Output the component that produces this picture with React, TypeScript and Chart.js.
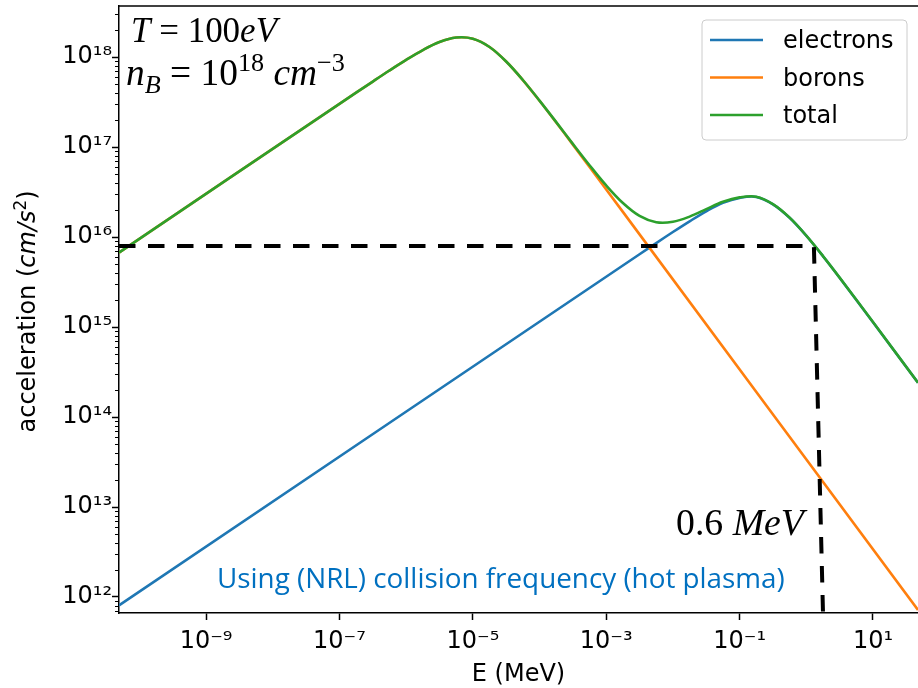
import React, { useEffect, useRef } from 'react';
import { Chart, registerables } from 'chart.js';

Chart.register(...registerables);

// ---------- data ----------
const xMin = 4.95e-11;
const xMax = 47.3;
const yMin = 6.64e11;
const yMax = 3.69e18;

const electronsE = [4.95e-11, 3.16e-3, 5.62e-3, 1e-2, 1.78e-2, 3.16e-2, 5.62e-2, 0.1, 0.178, 0.316, 0.562, 1, 1.78, 3.16, 10, 47.3];
const electronsA = [8.08e11, 6.44e15, 8.57e15, 1.137e16, 1.495e16, 1.932e16, 2.399e16, 2.72e16, 2.79e16, 2.31e16, 1.635e16, 1.033e16, 6.12e15, 3.53e15, 1.131e15, 2.4e14];

const boronsE = [4.95e-11, 1e-7, 3.16e-7, 5.62e-7, 1e-6, 1.78e-6, 3.16e-6, 5.62e-6, 1e-5, 1.78e-5, 3.16e-5, 5.62e-5, 1e-4, 1.78e-4, 3.16e-4, 1e-3, 3.16e-3, 47.3];
const boronsA = [6.72e15, 3.02e17, 5.34e17, 7.08e17, 9.29e17, 1.194e18, 1.466e18, 1.646e18, 1.597e18, 1.293e18, 8.92e17, 5.55e17, 3.27e17, 1.875e17, 1.063e17, 3.38e16, 1.07e16, 7.16e11];

const totalE = [4.95e-11, 1e-7, 3.16e-7, 5.62e-7, 1e-6, 1.78e-6, 3.16e-6, 5.62e-6, 1e-5, 1.78e-5, 3.16e-5, 5.62e-5, 1e-4, 1.78e-4, 3.16e-4, 5.62e-4, 1e-3, 1.78e-3, 3.16e-3, 5.62e-3, 1e-2, 1.78e-2, 3.16e-2, 5.62e-2, 0.1, 0.178, 0.316, 0.562, 1, 1.78, 3.16, 10, 47.3];
const totalA = [6.72e15, 3.02e17, 5.34e17, 7.08e17, 9.29e17, 1.194e18, 1.466e18, 1.646e18, 1.597e18, 1.293e18, 8.92e17, 5.56e17, 3.28e17, 1.89e17, 1.084e17, 6.28e16, 3.74e16, 2.387e16, 1.716e16, 1.459e16, 1.476e16, 1.686e16, 2.04e16, 2.46e16, 2.756e16, 2.805e16, 2.317e16, 1.641e16, 1.036e16, 6.14e15, 3.54e15, 1.135e15, 2.405e14];

const markerE = [4.95e-11, 1.3, 1.78];
const markerA = [7.94e15, 7.94e15, 6.64e11];

const seriesLabels = ['electrons', 'borons', 'total'];
const seriesColors = ['#1f77b4', '#ff7f0e', '#2ca02c'];

const xTickValues = [1e-9, 1e-7, 1e-5, 1e-3, 1e-1, 1e1];
const xTickLabels = ['10⁻⁹', '10⁻⁷', '10⁻⁵', '10⁻³', '10⁻¹', '10¹'];
const yTickValues = [1e12, 1e13, 1e14, 1e15, 1e16, 1e17, 1e18];
const yTickLabels = ['10¹²', '10¹³', '10¹⁴', '10¹⁵', '10¹⁶', '10¹⁷', '10¹⁸'];

const xTitle = 'E (MeV)';
const noteText = 'Using (NRL) collision frequency (hot plasma)';

// ---------- helpers ----------
type Run = { text: string; italic?: boolean; rel?: number; dy?: number; family: string };

function runFont(r: Run, size: number) {
  return `${r.italic ? 'italic ' : ''}${(size * (r.rel ?? 1)).toFixed(2)}px ${r.family}`;
}
function measureRuns(ctx: CanvasRenderingContext2D, runs: Run[], size: number) {
  let w = 0;
  for (const r of runs) {
    ctx.font = runFont(r, size);
    w += ctx.measureText(r.text).width;
  }
  return w;
}
function drawRuns(ctx: CanvasRenderingContext2D, runs: Run[], x: number, y: number, size: number) {
  let cx = x;
  for (const r of runs) {
    ctx.font = runFont(r, size);
    ctx.fillText(r.text, cx, y + (r.dy ?? 0) * size);
    cx += ctx.measureText(r.text).width;
  }
}
function drawFitted(ctx: CanvasRenderingContext2D, runs: Run[], x: number, y: number, targetW: number, base: number) {
  const w = measureRuns(ctx, runs, base);
  const size = base * targetW / w;
  drawRuns(ctx, runs, x, y, size);
}

const SERIF = "'Liberation Serif', serif";
const SANS = "'DejaVu Sans', sans-serif";

const decorPlugin = {
  id: 'decor',
  afterDraw(chart: any) {
    const ctx: CanvasRenderingContext2D = chart.ctx;
    const { left, right, top, bottom } = chart.chartArea;
    const ys = chart.scales.y;
    ctx.save();

    // top spine
    ctx.strokeStyle = '#000';
    ctx.lineWidth = 1.5;
    ctx.beginPath();
    ctx.moveTo(left - 0.75, top);
    ctx.lineTo(right, top);
    ctx.stroke();

    // minor y ticks
    ctx.lineWidth = 1;
    for (let n = 11; n <= 18; n++) {
      for (let k = 2; k <= 9; k++) {
        const v = k * Math.pow(10, n);
        if (v < ys.min || v > ys.max) continue;
        const py = Math.round(ys.getPixelForValue(v)) + 0.5;
        ctx.beginPath();
        ctx.moveTo(left - 4, py);
        ctx.lineTo(left, py);
        ctx.stroke();
      }
    }

    // y title with mixed styles
    ctx.fillStyle = '#000';
    ctx.textBaseline = 'alphabetic';
    const yTitleRuns: Run[] = [
      { text: 'acceleration (', family: SANS },
      { text: 'cm/s', family: SANS, italic: true },
      { text: '2', family: SANS, rel: 0.7, dy: -0.38 },
      { text: ')', family: SANS },
    ];
    const tw = measureRuns(ctx, yTitleRuns, 24);
    ctx.save();
    ctx.translate(35, (top + bottom) / 2 + tw / 2 + 2);
    ctx.rotate(-Math.PI / 2);
    drawRuns(ctx, yTitleRuns, 0, 0, 24);
    ctx.restore();

    // legend
    const lx = 702, ly = 20, lw = 205, lh = 120, rad = 4;
    ctx.beginPath();
    ctx.moveTo(lx + rad, ly);
    ctx.lineTo(lx + lw - rad, ly);
    ctx.quadraticCurveTo(lx + lw, ly, lx + lw, ly + rad);
    ctx.lineTo(lx + lw, ly + lh - rad);
    ctx.quadraticCurveTo(lx + lw, ly + lh, lx + lw - rad, ly + lh);
    ctx.lineTo(lx + rad, ly + lh);
    ctx.quadraticCurveTo(lx, ly + lh, lx, ly + lh - rad);
    ctx.lineTo(lx, ly + rad);
    ctx.quadraticCurveTo(lx, ly, lx + rad, ly);
    ctx.closePath();
    ctx.fillStyle = 'rgba(255,255,255,0.8)';
    ctx.fill();
    ctx.strokeStyle = '#cccccc';
    ctx.lineWidth = 1;
    ctx.stroke();
    const rowY = [40, 77.5, 115];
    seriesLabels.forEach((lab, i) => {
      ctx.strokeStyle = seriesColors[i];
      ctx.lineWidth = 2.6;
      ctx.beginPath();
      ctx.moveTo(710, rowY[i]);
      ctx.lineTo(763, rowY[i]);
      ctx.stroke();
      ctx.fillStyle = '#000';
      ctx.font = `24px ${SANS}`;
      ctx.fillText(lab, 783, rowY[i] + 8);
    });

    // annotations
    ctx.fillStyle = '#000';
    drawFitted(ctx, [
      { text: 'T', italic: true, family: SERIF },
      { text: ' = 100', family: SERIF },
      { text: 'eV', italic: true, family: SERIF },
    ], 131, 42, 146, 30);
    drawFitted(ctx, [
      { text: 'n', italic: true, family: SERIF },
      { text: 'B', italic: true, family: SERIF, rel: 0.7, dy: 0.22 },
      { text: ' = 10', family: SERIF },
      { text: '18', family: SERIF, rel: 0.7, dy: -0.38 },
      { text: ' ', family: SERIF },
      { text: 'cm', italic: true, family: SERIF },
      { text: '−3', family: SERIF, rel: 0.7, dy: -0.38 },
    ], 126, 85, 219, 30);
    drawFitted(ctx, [
      { text: '0.6 ', family: SERIF },
      { text: 'MeV', italic: true, family: SERIF },
    ], 676, 535, 128, 30);

    ctx.fillStyle = '#0070c0';
    drawFitted(ctx, [{ text: noteText, family: "'Open Sans', sans-serif" }], 217, 588, 568, 25);

    ctx.restore();
  },
};

function pts(xs: number[], ys: number[]) {
  return xs.map((x, i) => ({ x, y: ys[i] }));
}

export default function App() {
  const ref = useRef<HTMLCanvasElement>(null);
  useEffect(() => {
    if (!ref.current) return;
    Chart.defaults.font.family = SANS;
    const lineBase = {
      pointRadius: 0,
      pointHoverRadius: 0,
      borderWidth: 2.6,
      fill: false,
      tension: 0.35,
    };
    const chart = new Chart(ref.current, {
      type: 'line',
      data: {
        datasets: [
          {
            label: 'marker',
            data: pts(markerE, markerA),
            borderColor: '#000',
            borderWidth: 4,
            borderDash: [16.5, 12.5],
            pointRadius: 0,
            tension: 0,
            order: 0,
          },
          { ...lineBase, label: seriesLabels[2], data: pts(totalE, totalA), borderColor: seriesColors[2], order: 1 },
          { ...lineBase, label: seriesLabels[1], data: pts(boronsE, boronsA), borderColor: seriesColors[1], order: 2 },
          { ...lineBase, label: seriesLabels[0], data: pts(electronsE, electronsA), borderColor: seriesColors[0], order: 3 },
        ],
      },
      options: {
        responsive: false,
        animation: false,
        devicePixelRatio: 1,
        events: [],
        layout: { padding: { top: 6, left: 0, right: 0, bottom: 0 } },
        plugins: { legend: { display: false }, tooltip: { enabled: false }, title: { display: false } },
        scales: {
          x: {
            type: 'logarithmic',
            min: xMin,
            max: xMax,
            afterBuildTicks: (s: any) => {
              s.ticks = xTickValues.map((v) => ({ value: v }));
            },
            afterFit: (s: any) => {
              s.height = 75;
              s.paddingLeft = 0;
              s.paddingRight = 0;
              s.paddingTop = 0;
              s.paddingBottom = 0;
            },
            ticks: {
              callback: (_v: any, i: number) => xTickLabels[i],
              autoSkip: false,
              maxRotation: 0,
              minRotation: 0,
              padding: 7,
              color: '#000',
              font: { size: 24, family: SANS },
            },
            grid: { display: true, drawOnChartArea: false, drawTicks: true, tickLength: 7, tickWidth: 1.5, tickColor: '#000' },
            border: { display: true, color: '#000', width: 1.5 },
            title: { display: true, text: xTitle, color: '#000', font: { size: 24, family: SANS, lineHeight: 1.1 }, padding: { top: 0, bottom: 0 } },
          },
          y: {
            type: 'logarithmic',
            min: yMin,
            max: yMax,
            afterBuildTicks: (s: any) => {
              s.ticks = yTickValues.map((v) => ({ value: v }));
            },
            afterFit: (s: any) => {
              s.width = 119;
              s.paddingLeft = 0;
              s.paddingRight = 0;
              s.paddingTop = 0;
              s.paddingBottom = 0;
            },
            ticks: {
              callback: (_v: any, i: number) => yTickLabels[i],
              autoSkip: false,
              padding: 0,
              color: '#000',
              font: { size: 24, family: SANS },
            },
            grid: { display: true, drawOnChartArea: false, drawTicks: true, tickLength: 7, tickWidth: 1.5, tickColor: '#000' },
            border: { display: true, color: '#000', width: 1.5 },
          },
        },
      },
      plugins: [decorPlugin],
    } as any);
    return () => chart.destroy();
  }, []);
  return (
    <div style={{ position: 'fixed', left: 0, top: 0, width: 918, height: 688, background: '#fff' }}>
      <canvas ref={ref} width={918} height={688} style={{ display: 'block', width: 918, height: 688 }} />
    </div>
  );
}
